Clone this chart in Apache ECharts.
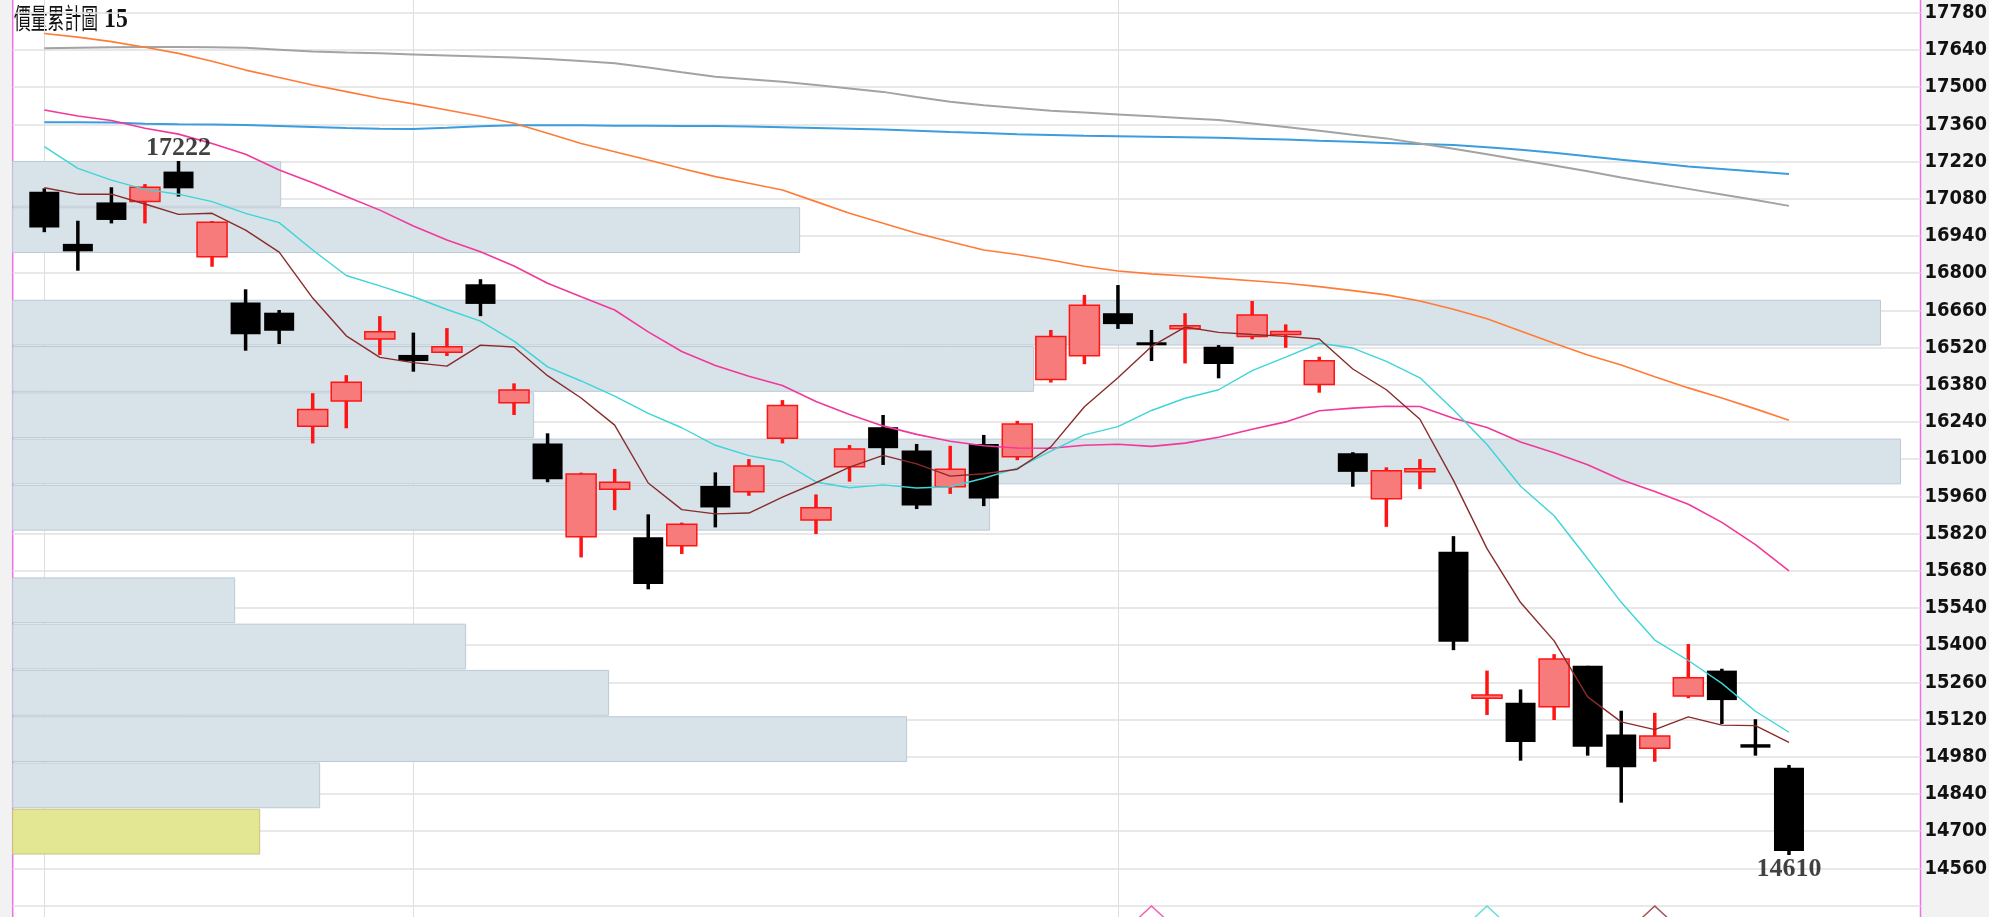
<!DOCTYPE html>
<html>
<head>
<meta charset="utf-8">
<title>價量累計圖</title>
<script src="https://cdn.jsdelivr.net/npm/echarts@6/dist/echarts.min.js"></script>
<style>
  html, body { margin: 0; padding: 0; background: #f2f2f2; }
  #chart { width: 1989px; height: 917px; }
</style>
</head>
<body>
<div id="chart"></div>
<script>
// 日K 開/收/低/高
const opens = [17106,16910,17066,17069,17182,16862,16689,16651,16224,16319,
  16552,16492,16502,16758,16312,16159,15808,15987,15806,15774,
  15999,15977,16178,15871,16071,16220,16132,15996,16157,16109,
  16400,16489,16649,16538,16591,16523,16561,16570,16381,16122,
  15951,16053,15751,15200,15183,15168,15322,15064,15012,15208,
  15304,15027,14938];
const closes = [16972,16882,17000,17123,17119,16991,16570,16583,16287,16389,
  16579,16469,16523,16684,16360,16024,16044,16013,15630,15855,
  15918,16074,16302,15917,16138,16141,15925,16062,15952,16232,
  16561,16679,16608,16530,16601,16458,16642,16579,16470,16052,
  16056,16063,15413,15212,15035,15348,15017,14940,15058,15277,
  15193,15014,14625];
const lows = [16954,16809,16987,16987,17088,16824,16508,16533,16159,16216,
  16492,16429,16488,16638,16266,16013,15730,15908,15610,15743,
  15843,15962,16159,15818,16015,16078,15912,15969,15923,16096,
  16388,16457,16590,16469,16460,16404,16551,16519,16350,15996,
  15845,15987,15381,15137,14965,15118,14984,14807,14961,15200,
  15103,14984,14610];
const highs = [17119,16997,17123,17135,17222,16996,16739,16661,16348,16416,
  16638,16576,16593,16777,16385,16197,16049,16063,15892,15861,
  16050,16100,16322,15967,16153,16266,16157,16150,16191,16244,
  16586,16718,16755,16586,16649,16529,16695,16607,16485,16126,
  16069,16100,15810,15304,15233,15366,15322,15153,15145,15404,
  15311,15121,14949];

// 均線
const ma5 = [17121,17097,17097,17060,17021,17025,16962,16879,16706,16564,
  16483,16463,16450,16529,16522,16414,16330,16228,16010,15910,
  15894,15897,15957,16011,16070,16114,16082,16036,16045,16062,
  16146,16297,16406,16524,16597,16577,16569,16562,16552,16439,
  16361,16250,16020,15763,15560,15416,15205,15111,15082,15130,
  15099,15097,15034];
const ma10 = [17276,17194,17150,17115,17097,17069,17025,16990,16887,16791,
  16752,16711,16663,16619,16544,16447,16394,16337,16272,16218,
  16152,16113,16090,16014,15992,16003,15991,15996,16028,16066,
  16130,16191,16222,16283,16329,16361,16433,16484,16536,16518,
  16468,16406,16286,16155,15998,15887,15725,15561,15419,15342,
  15256,15151,15072];
const ma20 = [17414,17391,17374,17345,17323,17288,17247,17188,17140,17088,
  17037,16977,16925,16880,16827,16762,16711,16661,16579,16505,
  16452,16412,16377,16317,16268,16225,16193,16167,16150,16142,
  16141,16152,16156,16148,16160,16182,16212,16240,16282,16292,
  16299,16298,16254,16219,16164,16124,16079,16022,15978,15930,
  15862,15778,15679];
const ma60 = [17702,17688,17671,17650,17627,17597,17564,17536,17508,17483,
  17458,17437,17414,17390,17364,17326,17288,17257,17226,17194,
  17163,17138,17113,17069,17025,16988,16950,16918,16887,16870,
  16849,16826,16808,16797,16789,16780,16771,16762,16749,16734,
  16718,16695,16664,16628,16582,16536,16492,16454,16410,16368,
  16330,16289,16246];
const ma120 = [17646,17648,17650,17651,17651,17650,17648,17641,17634,17630,
  17627,17623,17619,17615,17611,17606,17598,17590,17574,17556,
  17539,17530,17520,17508,17495,17482,17463,17445,17432,17421,
  17411,17404,17397,17390,17383,17376,17363,17350,17336,17321,
  17307,17288,17268,17247,17226,17205,17183,17160,17138,17117,
  17096,17075,17053];
const ma240 = [17368,17368,17367,17362,17360,17359,17357,17354,17350,17346,
  17343,17342,17347,17353,17356,17356,17356,17355,17355,17354,
  17354,17352,17349,17346,17343,17340,17336,17331,17327,17323,
  17320,17317,17315,17313,17311,17309,17306,17303,17298,17294,
  17290,17286,17282,17274,17264,17253,17240,17227,17214,17201,
  17192,17182,17173];

// 價量累計 15 區 (由高到低)
const bandVolume = [268,787,0,1868,1021,521,1888,977,0,222,453,596,894,307,247];

const monthStarts = [0, 11, 32];
// 均線轉折標記
const turnIdx = [33, 43, 48];
const turnColor = ['#f2389a', '#3dd5d8', '#8a2b2b'];

const labelMin = 14560, labelMax = 17780, labelStep = 140;

const n = closes.length;
const bandHigh = Math.max(...highs);
const bandLow = Math.min(...lows);
const bandStep = (bandHigh - bandLow) / bandVolume.length;
const lastClose = closes[n - 1];
const bands = bandVolume.map((v, k) => {
  const top = bandHigh - k * bandStep;
  const bot = top - bandStep;
  return [v, top, bot, (lastClose >= bot && lastClose <= top) ? 1 : 0];
});

const iMax = highs.indexOf(bandHigh);
const iMin = lows.indexOf(bandLow);

function renderBand(params, api) {
  const v = api.value(0);
  if (!v) return null;
  const p1 = api.coord([0, api.value(1)]);
  const p2 = api.coord([v, api.value(2)]);
  const cur = api.value(3) === 1;
  return {
    type: 'rect',
    shape: { x: p1[0], y: p1[1] + 0.5, width: p2[0] - p1[0], height: p2[1] - p1[1] - 1.5 },
    style: cur ? { fill: '#e3e692', stroke: '#c8c879', lineWidth: 1 }
               : { fill: '#d8e2e9', stroke: '#bccad5', lineWidth: 1 }
  };
}

function renderCandle(params, api) {
  const i = api.value(0);
  const o = api.value(1), c = api.value(2), l = api.value(3), h = api.value(4);
  const top = api.coord([i, Math.max(o, c)]);
  const bot = api.coord([i, Math.min(o, c)]);
  const pH = api.coord([i, h]);
  const pL = api.coord([i, l]);
  const up = c > o;
  const color = up ? '#ff1414' : '#000';
  let y = top[1], hgt = bot[1] - top[1];
  if (hgt < 3) { y -= (3 - hgt) / 2; hgt = 3; }
  return {
    type: 'group',
    children: [
      { type: 'rect', shape: { x: top[0] - 1.75, y: pH[1], width: 3.5, height: pL[1] - pH[1] },
        style: { fill: color } },
      { type: 'rect', shape: { x: top[0] - 15, y: y, width: 30, height: hgt },
        style: up ? { fill: '#f77b7b', stroke: color, lineWidth: 1.5 } : { fill: '#000' } }
    ]
  };
}

function maLine(data, color, width) {
  return {
    type: 'line', data: data.map((v, i) => [i, v]), showSymbol: false, symbol: 'none',
    silent: true, z: 4, lineStyle: { color: color, width: width }
  };
}

const chart = echarts.init(document.getElementById('chart'));
chart.setOption({
  animation: false,
  backgroundColor: '#f2f2f2',
  graphic: [
    { type: 'text', x: 14, y: 4, scaleX: 0.6,
      style: { text: '價量累計圖', fontFamily: 'Noto Sans CJK TC', fontSize: 28, fill: '#111', verticalAlign: 'top' } },
    { type: 'text', x: 104, y: 6, scaleX: 0.85,
      style: { text: '15', fontFamily: 'Liberation Serif', fontWeight: 'bold', fontSize: 28, fill: '#111', verticalAlign: 'top' } }
  ],
  grid: {
    left: 12.7, right: 68.5, top: -24.5, bottom: -25.7,
    show: true, backgroundColor: '#ffffff', borderColor: '#ec72ec', borderWidth: 1.5,
    outerBoundsMode: 'none'
  },
  xAxis: [
    { type: 'value', min: -0.9419, max: 55.92, show: false },
    { type: 'value', min: 0, max: 1908, show: false }
  ],
  yAxis: {
    type: 'value', position: 'right', min: 14280, max: 17920, interval: labelStep,
    axisLine: { show: false }, axisTick: { show: false },
    axisLabel: {
      margin: 4, align: 'left', color: '#111', fontFamily: 'DejaVu Sans Condensed',
      fontWeight: 'bold', fontSize: 20,
      formatter: v => (v >= labelMin && v <= labelMax) ? String(v) : ''
    },
    splitLine: { lineStyle: { color: '#e0e0e0', width: 1.6 } }
  },
  series: [
    {
      type: 'line', data: [], z: 1,
      markLine: {
        silent: true, z: 1, symbol: ['none', 'none'], label: { show: false },
        lineStyle: { color: '#dedede', width: 1, type: 'solid' },
        data: monthStarts.map(i => ({ xAxis: i }))
      }
    },
    {
      type: 'custom', xAxisIndex: 1, z: 2, silent: true,
      renderItem: renderBand, data: bands
    },
    {
      type: 'custom', z: 3, silent: true,
      renderItem: renderCandle,
      encode: { x: 0, y: [1, 2, 3, 4] },
      data: opens.map((o, i) => [i, o, closes[i], lows[i], highs[i]])
    },
    maLine(ma240, '#3b9ddd', 2),
    maLine(ma120, '#a3a3a3', 2),
    maLine(ma60, '#ff7b36', 1.6),
    maLine(ma20, '#f2389a', 1.6),
    maLine(ma10, '#3dd5d8', 1.4),
    maLine(ma5, '#8a2b2b', 1.4),
    {
      type: 'scatter', z: 5, silent: true, symbol: 'triangle', symbolSize: [30, 14],
      data: turnIdx.map((idx, k) => ({
        value: [idx, 14392],
        itemStyle: { color: 'rgba(0,0,0,0)', borderColor: turnColor[k], borderWidth: 1.3 }
      }))
    },
    {
      type: 'scatter', z: 6, silent: true, symbolSize: 0,
      label: {
        show: true, formatter: p => String(p.value[1]), color: '#111',
        fontFamily: 'Liberation Serif', fontWeight: 'bold', fontSize: 26
      },
      data: [
        { value: [iMax, bandHigh], label: { position: 'top', distance: 0 } },
        { value: [iMin, bandLow], label: { position: 'bottom', distance: 1 } }
      ]
    }
  ]
});
</script>
</body>
</html>
